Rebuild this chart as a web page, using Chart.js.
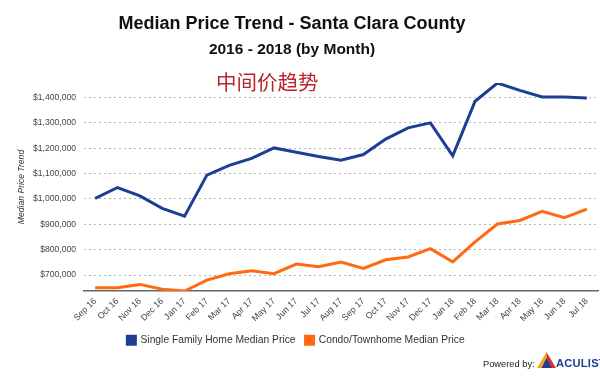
<!DOCTYPE html>
<html>
<head>
<meta charset="utf-8">
<script src="https://cdn.jsdelivr.net/npm/chart.js@4"></script>
<style>
  html, body { margin: 0; padding: 0; background: #fff; }
  #wrap { position: relative; width: 600px; height: 382px; overflow: hidden; font-family: "Liberation Sans", Arial, sans-serif; }
  #chartBox { position: absolute; left: 0; top: 0; width: 600px; height: 382px; }
  .txt { position: absolute; white-space: nowrap; }
  #title { left: 0; width: 584px; top: 13px; text-align: center; font-size: 18px; font-weight: bold; color: #111; }
  #subtitle { left: 0; width: 584px; top: 40px; text-align: center; font-size: 15.5px; font-weight: bold; color: #111; }
  #cn { left: 216px; top: 69px; font-family: "Noto Sans CJK SC", sans-serif; font-size: 20.5px; color: #b8262b; line-height: 1.2; }
  #powered { left: 483px; top: 359px; font-size: 9.3px; color: #222; }
  #logo { position: absolute; left: 537px; top: 352px; }
  #aculist { left: 556px; top: 357px; font-size: 11.2px; font-weight: bold; color: #1c3f94; letter-spacing: 0.2px; }
</style>
</head>
<body>
<div id="wrap">
  <div id="chartBox"><canvas id="c"></canvas></div>
  <div class="txt" id="title">Median Price Trend - Santa Clara County</div>
  <div class="txt" id="subtitle">2016 - 2018 (by Month)</div>
  <div class="txt" id="cn">中间价趋势</div>
  <div class="txt" id="powered">Powered by:</div>
  <svg id="logo" width="19" height="17" viewBox="0 0 19 17">
    <polygon points="9.5,0 0,16 9.5,16" fill="#f3a81b"/>
    <polygon points="9.5,0 19,16 9.5,16" fill="#d8342c"/>
    <polygon points="9.5,6 4.5,16 14.5,16" fill="#1c3f94"/>
  </svg>
  <div class="txt" id="aculist">ACULIST</div>
</div>
<script>
const categories = ['Sep 16','Oct 16','Nov 16','Dec 16','Jan 17','Feb 17','Mar 17','Apr 17','May 17','Jun 17','Jul 17','Aug 17','Sep 17','Oct 17','Nov 17','Dec 17','Jan 18','Feb 18','Mar 18','Apr 18','May 18','Jun 18','Jul 18'];
const singleFamily = [1002000,1045000,1012000,963000,932000,1094000,1132000,1160000,1201000,1184000,1167000,1153000,1175000,1236000,1280000,1300000,1170000,1385000,1457000,1428000,1402000,1402000,1398000];
const condo = [650000,650000,663000,644000,637000,680000,705000,717000,705000,743000,733000,751000,726000,760000,771000,804000,752000,831000,901000,915000,951000,926000,960000];
const seriesNames = ['Single Family Home Median Price', 'Condo/Townhome Median Price'];
const yTicks = [700000, 800000, 900000, 1000000, 1100000, 1200000, 1300000, 1400000];

const allVals = singleFamily.concat(condo);
const yMin = Math.min(...allVals);
const yMax = Math.max(...allVals);
const FONT = "'Liberation Sans', Arial, sans-serif";

const legendShift = {
  id: 'legendShift',
  afterLayout(chart) {
    if (chart.legend) { chart.legend.left -= 9; chart.legend.right -= 9; }
  }
};

new Chart(document.getElementById('c'), {
  type: 'line',
  data: {
    labels: categories,
    datasets: [
      { label: seriesNames[0], data: singleFamily, borderColor: '#1c3f94', backgroundColor: '#1c3f94', borderWidth: 3, pointRadius: 0, tension: 0 },
      { label: seriesNames[1], data: condo, borderColor: '#ff6a10', backgroundColor: '#ff6a10', borderWidth: 3, pointRadius: 0, tension: 0 }
    ]
  },
  plugins: [legendShift],
  options: {
    responsive: true,
    maintainAspectRatio: false,
    animation: false,
    layout: { padding: { top: 83, left: 12, right: 2, bottom: 26.7 } },
    plugins: {
      legend: {
        position: 'bottom',
        labels: { boxWidth: 8, boxHeight: 8, padding: 10, color: '#333', font: { family: FONT, size: 10.3 } }
      },
      tooltip: { enabled: false }
    },
    scales: {
      x: {
        offset: true,
        grid: { display: false, drawTicks: false },
        border: { display: true, color: '#666', width: 1.5 },
        ticks: { autoSkip: false, minRotation: 45, maxRotation: 45, padding: 5, color: '#444', font: { family: FONT, size: 8.8 } },
        afterFit: (s) => { s.height = 34; }
      },
      y: {
        type: 'linear',
        min: yMin,
        max: yMax,
        grid: { display: true, color: '#b4b4b4', lineWidth: 1, drawTicks: false },
        border: { display: false, dash: [2, 3] },
        ticks: {
          autoSkip: false, padding: 8, color: '#444', font: { family: FONT, size: 8.6 },
          callback: (v) => '$' + Number(v).toLocaleString('en-US')
        },
        afterBuildTicks: (s) => { s.ticks = yTicks.map(v => ({ value: v })); },
        afterFit: (s) => { s.width = 72; },
        title: { display: true, text: 'Median Price Trend', color: '#333', font: { family: FONT, size: 8.6, style: 'italic' } }
      }
    }
  }
});
</script>
</body>
</html>
